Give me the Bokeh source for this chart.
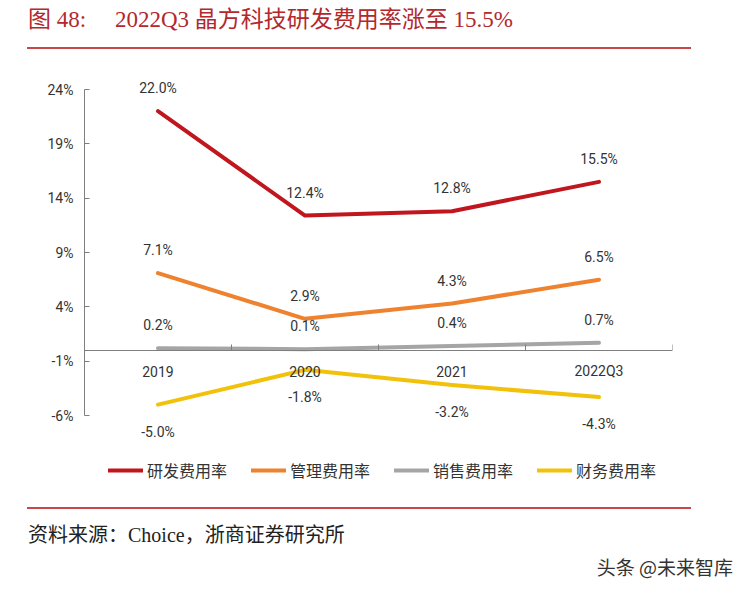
from bokeh.plotting import figure
from bokeh.models import (ColumnDataSource, LabelSet, Legend, LegendItem, Div,
                          LinearAxis, FixedTicker, PrintfTickFormatter, Range1d,
                          CustomJSTickFormatter)
from bokeh.layouts import column
from bokeh.core.properties import value
from bokeh.embed import file_html
from bokeh.resources import INLINE

# ---------------- data ----------------
categories = ["2019", "2020", "2021", "2022Q3"]
rd_rate = [22.0, 12.4, 12.8, 15.5]      # 研发费用率
mgmt_rate = [7.1, 2.9, 4.3, 6.5]        # 管理费用率
sales_rate = [0.2, 0.1, 0.4, 0.7]       # 销售费用率
fin_rate = [-5.0, -1.8, -3.2, -4.3]     # 财务费用率
series_names = ["研发费用率", "管理费用率", "销售费用率", "财务费用率"]
y_ticks = [-6, -1, 4, 9, 14, 19, 24]

title_prefix = "图 48:"
title_text = "2022Q3 晶方科技研发费用率涨至 15.5%"
source_text = "资料来源：Choice，浙商证券研究所"
watermark = "头条 @未来智库"

# ---------------- styles ----------------
colors = ["#C0161E", "#EE822F", "#A5A5A5", "#F2C10A"]
NUM_FONT = "Roboto"
CJK_FONT = "Noto Sans CJK SC"
SERIF_CSS = "'Liberation Serif','Noto Sans CJK SC',serif"
TITLE_COLOR = "#B3282D"
RULE_COLOR = "#C8484A"
TEXT_COLOR = "#333333"

W = 746
TOP_H = 60
FIG_H = 442
BOT_H = 92

# ---------------- header ----------------
header = Div(width=W, height=TOP_H, styles={"margin": "0", "padding": "0"}, text=(
    f'<div style="position:relative;width:{W}px;height:{TOP_H}px;">'
    f'<span style="position:absolute;left:28px;top:5px;font-family:{SERIF_CSS};'
    f'font-size:23px;line-height:30px;color:{TITLE_COLOR};white-space:nowrap;">{title_prefix}</span>'
    f'<span style="position:absolute;left:115px;top:5px;font-family:{SERIF_CSS};'
    f'font-size:23px;line-height:30px;color:{TITLE_COLOR};white-space:nowrap;">{title_text}</span>'
    f'<div style="position:absolute;left:27px;top:47px;width:664px;height:1.5px;'
    f'background:{RULE_COLOR};"></div></div>'))

# ---------------- chart ----------------
# frame: page x 84..672, page y 62..494 ; -6..24 maps to page y 415..89
FT, FB = 62, 494
PX_PER = 326 / 30
y_lo = -6 - (FB - 415) / PX_PER
y_hi = 24 + (89 - FT) / PX_PER
p = figure(width=W, height=FIG_H, output_backend="svg", toolbar_location=None,
           x_range=Range1d(-0.5, len(categories) - 0.5), y_range=Range1d(y_lo, y_hi),
           x_axis_type=None, y_axis_type=None,
           min_border_left=84, min_border_right=W - 672, min_border_top=FT - TOP_H,
           min_border_bottom=TOP_H + FIG_H - FB)
p.grid.visible = False
p.outline_line_color = None
p.background_fill_color = "white"
p.border_fill_color = "white"

yaxis = LinearAxis(ticker=FixedTicker(ticks=y_ticks), bounds=(min(y_ticks), max(y_ticks)),
                   formatter=PrintfTickFormatter(format="%d%%"))
yaxis.major_tick_in = 5
yaxis.major_tick_out = 0
yaxis.minor_tick_line_color = None
yaxis.axis_line_color = "#7F7F7F"
yaxis.major_tick_line_color = "#7F7F7F"
yaxis.major_label_text_font = NUM_FONT
yaxis.major_label_text_font_size = "14px"
yaxis.major_label_text_color = TEXT_COLOR
yaxis.major_label_standoff = 11
p.add_layout(yaxis, "left")

# x axis line at y = 0 with upward ticks at category boundaries
xs = list(range(len(categories)))
bticks = [i + 0.5 for i in xs]
xaxis = LinearAxis(fixed_location=0, ticker=FixedTicker(ticks=bticks),
                   formatter=CustomJSTickFormatter(code="return ''"))
xaxis.axis_line_color = "#7F7F7F"
xaxis.major_tick_in = 6
xaxis.major_tick_out = 0
xaxis.major_tick_line_color = "#7F7F7F"
xaxis.minor_tick_line_color = None
xaxis.major_label_standoff = 0
xaxis.major_label_text_font_size = "0px"
p.add_layout(xaxis, "below")

# category labels under the zero line
cat_src = ColumnDataSource(dict(x=xs, y=[0] * len(xs), t=categories))
p.add_layout(LabelSet(x="x", y="y", text="t", source=cat_src, y_offset=-21,
                      text_align="center", text_baseline="middle",
                      text_font=value(NUM_FONT), text_font_size=value("14px"),
                      text_color=TEXT_COLOR))

all_series = [rd_rate, mgmt_rate, sales_rate, fin_rate]
renderers = []
for vals, col in zip(all_series, colors):
    r = p.line(xs, vals, line_color=col, line_width=4, line_join="round", line_cap="round")
    renderers.append(r)

for vals in all_series:
    src = ColumnDataSource(dict(x=xs, y=vals, t=[f"{v:.1f}%" for v in vals]))
    below = all(v < 0 for v in vals)
    ls = LabelSet(x="x", y="y", text="t", source=src,
                  y_offset=-27 if below else 23,
                  text_align="center", text_baseline="middle",
                  text_font=value(NUM_FONT), text_font_size=value("14px"),
                  text_color=TEXT_COLOR)
    p.add_layout(ls)

legend = Legend(items=[LegendItem(label=n, renderers=[r]) for n, r in zip(series_names, renderers)],
                orientation="horizontal", location=(108 - 84, FB - 482),
                glyph_width=35, glyph_height=18, label_standoff=4, spacing=24,
                padding=0, margin=0, border_line_color=None,
                background_fill_alpha=0,
                label_text_font=CJK_FONT, label_text_font_size="16px",
                label_text_color=TEXT_COLOR)
p.add_layout(legend, "center")

# ---------------- footer ----------------
F0 = TOP_H + FIG_H
footer = Div(width=W, height=BOT_H, styles={"margin": "0", "padding": "0"}, text=(
    f'<div style="position:relative;width:{W}px;height:{BOT_H}px;">'
    f'<div style="position:absolute;left:27px;top:{507 - F0}px;width:664px;height:1.5px;'
    f'background:{RULE_COLOR};"></div>'
    f'<span style="position:absolute;left:28px;top:{535 - 13 - F0}px;font-family:{SERIF_CSS};'
    f'font-size:20px;line-height:26px;color:#222;white-space:nowrap;">{source_text}</span>'
    f'<span style="position:absolute;right:{W - 733}px;top:{567 - 13 - F0}px;'
    f'font-family:\'Noto Sans CJK SC\',sans-serif;'
    f'font-size:19px;line-height:26px;color:#333;white-space:nowrap;">{watermark}</span>'
    f'</div>'))

layout = column(header, p, footer, spacing=0)
open("out.html", "w").write(file_html(layout, INLINE))
